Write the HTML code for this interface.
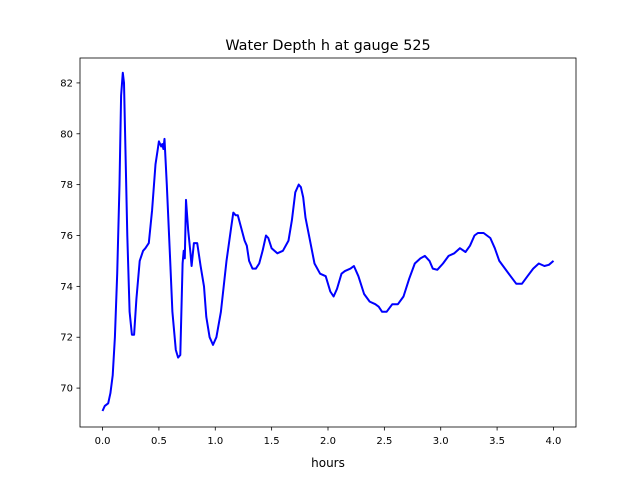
<!DOCTYPE html>
<html><head><meta charset="utf-8"><style>
body{margin:0;background:#fff}
svg{display:block;font-family:"DejaVu Sans","Liberation Sans",sans-serif}
</style></head><body>
<svg id="chart" width="640" height="480">
<rect width="640" height="480" fill="#fff"/>
<text x="328" y="50" font-size="14.4" text-anchor="middle">Water Depth h at gauge 525</text>
<g id="axes"></g>
<text x="328" y="467" font-size="12" text-anchor="middle">hours</text>
</svg>
<script>
const hours=[0,0.02,0.05,0.07,0.09,0.11,0.13,0.15,0.165,0.18,0.19,0.2,0.22,0.24,0.26,0.28,0.3,0.33,0.36,0.38,0.41,0.44,0.47,0.49,0.5,0.52,0.53,0.54,0.55,0.57,0.6,0.62,0.65,0.67,0.69,0.71,0.72,0.73,0.74,0.76,0.78,0.79,0.81,0.84,0.87,0.9,0.92,0.95,0.98,1.01,1.05,1.1,1.14,1.16,1.18,1.2,1.23,1.26,1.28,1.3,1.33,1.36,1.39,1.42,1.45,1.47,1.5,1.55,1.6,1.65,1.68,1.71,1.74,1.76,1.78,1.8,1.84,1.88,1.93,1.98,2.02,2.05,2.08,2.12,2.15,2.2,2.23,2.27,2.32,2.37,2.42,2.45,2.48,2.52,2.57,2.62,2.67,2.72,2.77,2.82,2.86,2.9,2.93,2.97,3.02,3.07,3.12,3.17,3.22,3.26,3.3,3.33,3.38,3.44,3.48,3.52,3.57,3.62,3.67,3.72,3.77,3.82,3.87,3.92,3.96,4.0];
const depth=[69.1,69.3,69.4,69.8,70.5,72,74.5,78,81.5,82.4,82,80,76,73,72.1,72.1,73.5,75,75.4,75.5,75.7,77,78.8,79.4,79.7,79.5,79.6,79.4,79.8,78,75,73,71.5,71.2,71.3,74.9,75.4,75.1,77.4,76.2,75.3,74.8,75.7,75.7,74.8,74,72.8,72,71.7,72,73,75,76.3,76.9,76.8,76.8,76.3,75.8,75.6,75,74.7,74.7,74.9,75.4,76,75.9,75.5,75.3,75.4,75.8,76.6,77.7,78,77.9,77.5,76.7,75.8,74.9,74.5,74.4,73.8,73.6,73.9,74.5,74.6,74.7,74.8,74.4,73.7,73.4,73.3,73.2,73,73,73.3,73.3,73.6,74.3,74.9,75.1,75.2,75,74.7,74.65,74.9,75.2,75.3,75.5,75.35,75.6,76,76.1,76.1,75.9,75.5,75,74.7,74.4,74.1,74.1,74.4,74.7,74.9,74.8,74.85,75];
const xTicks=[0,0.5,1.0,1.5,2.0,2.5,3.0,3.5,4.0];
const xTickLabels=["0.0","0.5","1.0","1.5","2.0","2.5","3.0","3.5","4.0"];
const yTicks=[70,72,74,76,78,80,82];
const yTickLabels=["70","72","74","76","78","80","82"];
const L=80,R=576,T=58,B=427,x0=-0.2,x1=4.2,y0=68.47,y1=82.98;
const sx=v=>L+(v-x0)/(x1-x0)*(R-L);
const sy=v=>B-(v-y0)/(y1-y0)*(B-T);
const NS="http://www.w3.org/2000/svg";
const g=document.getElementById('axes');
function mk(tag,attrs){const e=document.createElementNS(NS,tag);for(const k in attrs)e.setAttribute(k,attrs[k]);g.appendChild(e);return e;}
const line=mk('polyline',{points:hours.map((h,i)=>sx(h).toFixed(1)+','+sy(depth[i]).toFixed(1)).join(' '),fill:'none',stroke:'#0000ff','stroke-width':2,'stroke-linejoin':'round'});


xTicks.forEach((t,i)=>{
 const tk=mk('line',{x1:sx(t),x2:sx(t),y1:B,y2:B+3.5,stroke:'#000','stroke-width':0.8});
 
 
 const tx=mk('text',{x:sx(t),y:B+17,'font-size':10,'text-anchor':'middle'});tx.textContent=xTickLabels[i];
 
 
});
yTicks.forEach((t,i)=>{
 const tk=mk('line',{x1:L-3.5,x2:L,y1:sy(t),y2:sy(t),stroke:'#000','stroke-width':0.8});
 
 
 const tx=mk('text',{x:L-7,y:sy(t)+3.5,'font-size':10,'text-anchor':'end'});tx.textContent=yTickLabels[i];
 
 
});
const fr=mk('rect',{x:L,y:T,width:R-L,height:B-T,fill:'none',stroke:'#000','stroke-width':0.8});


</script>
</body></html>
